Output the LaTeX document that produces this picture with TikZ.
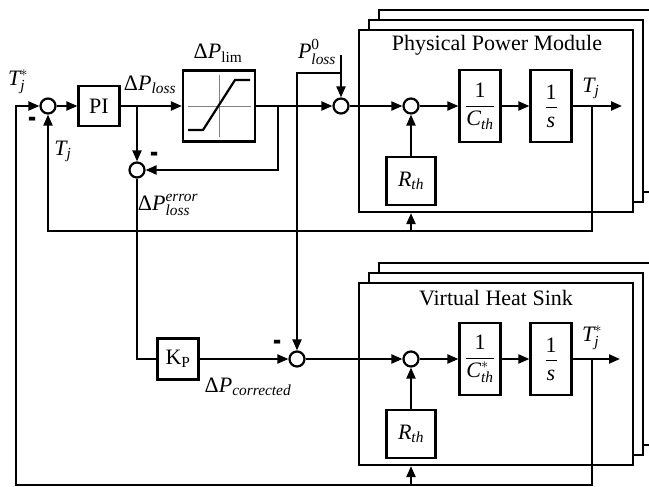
\documentclass[tikz,border=0pt]{standalone}
\usepackage{amsmath}
\usepackage{graphicx}
\usepackage{fontspec}
\setmainfont{Liberation Serif}
\usetikzlibrary{arrows.meta}
\newcommand{\ti}[1]{\textit{#1}}
\newcommand{\tu}[1]{\text{#1}}
\begin{document}
\begin{tikzpicture}[x=1pt, y=-1pt, line width=2.2pt,
  font=\fontsize{22}{26}\selectfont,
  >={Triangle[length=11pt,width=9pt]},
  sumc/.style={circle, draw, minimum size=15pt, inner sep=0pt},
  blk/.style={draw, minimum width=41pt, minimum height=41pt, inner sep=0pt},
  tall/.style={blk, minimum height=72pt},
  frm/.style={draw, fill=white, minimum width=274pt, minimum height=182pt, inner sep=0pt},
  lbl/.style={inner sep=0pt},
  sgn/.style={inner sep=0pt, font=\fontsize{22}{26}\selectfont\bfseries}]
\useasboundingbox (0,0) rectangle (649,487);

% ---------- left part ----------
\node[sumc] (s1) at (48,106) {};
\node[blk, minimum height=40pt] (pi) at (99,106) {PI};
\node[blk, minimum width=72pt, minimum height=71pt] (lim) at (219,106) {};
\node[sumc] (s2) at (137,170) {};
\node[sumc] (s4) at (341,106) {};
\node[blk] (kp) at (178,359) {K\textsubscript{P}};
\node[sumc] (s3) at (297,359) {};

% limiter characteristic
\draw[gray, line width=0.8pt] (188,106) -- (251,106);
\draw[gray, line width=0.8pt] (219,75) -- (219,137);
\draw (188,130) -- (203,130) -- (235,80) -- (250,80);

% ---------- top module ----------
\node[frm] (ta3) at (516,101) {};
\node[frm] (ta2) at (506,111) {};
\node[frm] (ta1) at (496,121) {};
\node[lbl] (tt) at (497,45) {Physical Power Module};
\node[sumc] (t5) at (411,106) {};
\node[tall] (tc) at (480,106) {$\dfrac{\tu{1}}{\ti{C}_{\ti{th}}}$};
\node[tall] (ts) at (551,106) {$\dfrac{\tu{1}}{\ti{s}}$};
\node[blk, minimum width=49pt, minimum height=48pt] (tr) at (411,181) {$\ti{R}_{\ti{th}}$};
\coordinate (tout) at (622,106);
\coordinate (tj) at (592,106);

% ---------- bottom module ----------
\node[frm] (ba3) at (516,354) {};
\node[frm] (ba2) at (506,364) {};
\node[frm] (ba1) at (496,374) {};
\node[lbl] (bt) at (496,298) {Virtual Heat Sink};
\node[sumc] (b5) at (411,359) {};
\node[tall] (bc) at (480,359) {$\dfrac{\tu{1}}{\ti{C}^{*}_{\ti{th}}}$};
\node[tall] (bs) at (551,359) {$\dfrac{\tu{1}}{\ti{s}}$};
\node[blk, minimum width=49pt, minimum height=48pt] (br) at (411,434) {$\ti{R}_{\ti{th}}$};
\coordinate (bout) at (620,359);
\coordinate (bj) at (592,359);

% ---------- helper coordinates ----------
\coordinate (lb) at (16,485);
\coordinate (lt) at (48,231);
\coordinate (j1) at (137,106);
\coordinate (j2) at (278,106);
\coordinate (p0) at (341,55);
\coordinate (j3) at (341,73);

% ---------- connectors ----------
\draw[->] (s1) -- (pi);
\draw[->] (pi) -- (lim);
\draw[->] (lim) -- (s4);
\draw[->] (j1) -- (s2);
\draw[->] (j2) |- (s2);
\draw (s2) |- (kp);
\draw[->] (kp) -- (s3);
\draw[->] (p0) -- (s4);
\draw[->] (j3) -| (s3);
\draw[->] (s4) -- (t5);
\draw[->] (s3) -- (b5);

\draw[->] (t5) -- (tc);
\draw[->] (tc) -- (ts);
\draw[->] (ts) -- (tout);
\draw[->] (tr) -- (t5);
\draw[->] (tj) |- (lt) -- (s1);
\draw[->] (tr.south |- lt) -- (ta1.south -| tr);

\draw[->] (b5) -- (bc);
\draw[->] (bc) -- (bs);
\draw[->] (bs) -- (bout);
\draw[->] (br) -- (b5);
\draw[->] (bj) |- (lb) |- (s1);
\draw[->] (br.south |- lb) -- (ba1.south -| br);

% ---------- labels ----------
\node[lbl] (l1) at (18,82) {$\ti{T}^{*}_{\ti{j}}$};
\node[sgn] (m1) at (33,123) {\scalebox{1.1}[2]{-}};
\node[lbl] (l2) at (63,151) {$\ti{T}_{\ti{j}}$};
\node[lbl] (l3) at (150,85) {$\tu{Δ}\ti{P}_{\ti{loss}}$};
\node[sgn] (m2) at (155,158) {\scalebox{1.1}[2]{-}};
\node[lbl] (l4) at (168,205) {$\tu{Δ}\ti{P}^{\ti{error}}_{\ti{loss}}$};
\node[lbl] (l5) at (218,53) {$\tu{Δ}\ti{P}_{\tu{lim}}$};
\node[lbl] (l6) at (317,52) {$\ti{P}^{\tu{0}}_{\ti{loss}}$};
\node[sgn] (m3) at (278,346) {\scalebox{1.1}[2]{-}};
\node[lbl] (l7) at (248,387) {$\tu{Δ}\ti{P}_{\ti{corrected}}$};
\node[lbl] (l8) at (591,88) {$\ti{T}_{\ti{j}}$};
\node[lbl] (l9) at (592,338) {$\ti{T}^{*}_{\ti{j}}$};
\end{tikzpicture}
\end{document}
